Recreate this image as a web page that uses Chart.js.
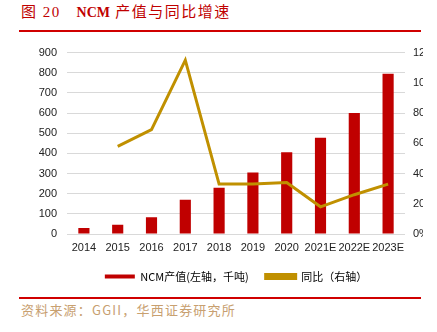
<!DOCTYPE html>
<html>
<head>
<meta charset="utf-8">
<script src="https://cdn.jsdelivr.net/npm/chart.js@4.4.0/dist/chart.umd.min.js"></script>
<style>
  html, body { margin: 0; padding: 0; width: 437px; height: 332px; overflow: hidden; background: #fff; }
  #title { position: absolute; left: 21px; top: 0px; font-family: "Liberation Serif", "Noto Sans CJK SC", serif; font-size: 15px; letter-spacing: 1.5px; color: #c00000; white-space: pre; }
  #title b { font-weight: bold; font-size: 14px; letter-spacing: 0; }
  .rule { position: absolute; left: 19px; width: 402px; height: 2px; background: #d00000; }
  #source { position: absolute; left: 21px; top: 300px; font-family: "Noto Sans CJK SC", sans-serif; font-size: 13px; letter-spacing: 1.2px; color: #c8a070; }
  #wrap { position: absolute; left: 0; top: 36px; width: 423px; height: 257px; overflow: hidden; }
</style>
</head>
<body>
<div id="title">图 20   <b>NCM</b> 产值与同比增速</div>
<div class="rule" style="top:30px"></div>
<div id="wrap"><canvas id="ncmChart" width="450" height="256"></canvas></div>
<div class="rule" style="top:297px"></div>
<div id="source">资料来源：GGII，华西证券研究所</div>
<script>
// 数据
const years = ['2014', '2015', '2016', '2017', '2018', '2019', '2020', '2021E', '2022E', '2023E'];
const output = [30, 46, 83, 170, 230, 305, 406, 478, 600, 795];       // 千吨
const growth = [null, 58, 69, 115, 33, 33, 34, 18, 26, 33];          // %
const leftTicks = [0, 100, 200, 300, 400, 500, 600, 700, 800, 900];
const rightTicks = [0, 20, 40, 60, 80, 100, 120];

const tickFont = { family: '"Liberation Sans", Arial, sans-serif', size: 11 };

const data = {
    labels: years,
    datasets: [{
        type: 'bar',
        label: 'NCM产值(左轴，千吨)',
        data: output,
        backgroundColor: '#c00000',
        borderWidth: 0,
        barPercentage: 0.33,
        categoryPercentage: 1,
        yAxisID: 'y',
        order: 1
    }, {
        type: 'line',
        label: '同比（右轴）',
        data: growth,
        borderColor: '#c09000',
        backgroundColor: '#c09000',
        borderWidth: 3,
        pointRadius: 0,
        tension: 0,
        yAxisID: 'y1',
        order: 0
    }]
};

const config = {
    data: data,
    options: {
        responsive: false,
        animation: false,
        devicePixelRatio: 1,
        layout: { padding: { top: 5, left: 0, right: 0, bottom: 0 } },
        plugins: {
            tooltip: { enabled: false },
            legend: {
                position: 'bottom',
                fullSize: false,
                labels: {
                    boxWidth: 30,
                    boxHeight: 4,
                    padding: 17,
                    color: '#000',
                    font: { family: '"Noto Sans CJK SC", sans-serif', size: 11 },
                    sort: (a, b) => a.datasetIndex - b.datasetIndex
                }
            }
        },
        scales: {
            x: {
                afterFit: (s) => { s.height = 20; },
                grid: { display: false, drawTicks: false },
                border: { display: false },
                ticks: { color: '#222', font: tickFont, padding: 7, maxRotation: 0, autoSkip: false }
            },
            y: {
                position: 'left',
                min: 0,
                max: 900,
                afterBuildTicks: (s) => { s.ticks = leftTicks.map(v => ({ value: v })); },
                afterFit: (s) => { s.width = 67; },
                grid: { color: '#d9d9d9', lineWidth: 1, drawTicks: false },
                border: { display: false },
                ticks: { color: '#222', font: tickFont, padding: 10 }
            },
            y1: {
                position: 'right',
                min: 0,
                max: 120,
                afterBuildTicks: (s) => { s.ticks = rightTicks.map(v => ({ value: v })); },
                afterFit: (s) => { s.width = 45; },
                grid: { display: false, drawTicks: false },
                border: { display: false },
                ticks: { color: '#222', font: tickFont, padding: 8, callback: (v) => v + '%' }
            }
        }
    }
};

const ctx = document.getElementById('ncmChart').getContext('2d');
const ncmChart = new Chart(ctx, config);
</script>
</body>
</html>
